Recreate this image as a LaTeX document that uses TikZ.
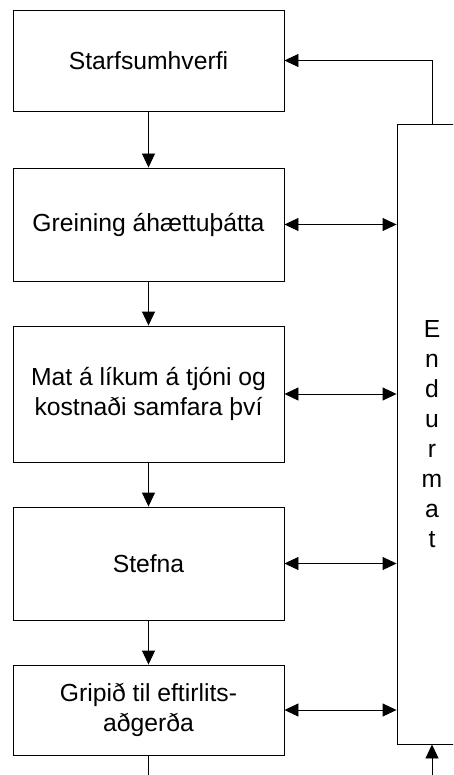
\documentclass[tikz,border=0pt]{standalone}
\usepackage{fontspec}
\setmainfont{Liberation Sans}
\usetikzlibrary{arrows.meta}
\begin{document}
\begin{tikzpicture}[x=1pt,y=-1pt, line width=0.9pt,
  box/.style={draw, minimum width=271pt, inner sep=0pt, align=center, font=\fontsize{24.7}{30}\selectfont},
  flow/.style={-{Triangle[length=14pt,width=13pt]}},
  both/.style={{Triangle[length=14pt,width=13pt]}-{Triangle[length=14pt,width=13pt]}}]
\useasboundingbox (0,0) rectangle (453,775);
\clip (0,0) rectangle (453,775);
\node[box, minimum height=101pt] (b1) at (148.5,60.5) {Starfsumhverfi};
\node[box, minimum height=113pt] (b2) at (148.5,224.5) {Greining áhættuþátta};
\node[box, minimum height=136pt] (b3) at (148.5,394) {Mat á líkum á tjóni og\\kostnaði samfara því};
\node[box, minimum height=113pt] (b4) at (148.5,563.5) {Stefna};
\node[box, minimum height=90pt] (b5) at (148.5,710) {Gripið til eftirlits-\\aðgerða};
\node[draw, minimum width=70pt, minimum height=620pt, inner sep=0pt, align=center,
  font=\fontsize{24.7}{30}\selectfont] (end) at (432,434) {E\\n\\d\\u\\r\\m\\a\\t};
\draw[flow] (b1) -- (b2);
\draw[flow] (b2) -- (b3);
\draw[flow] (b3) -- (b4);
\draw[flow] (b4) -- (b5);
\draw[both] (b2.east) -- (b2.east -| end.west);
\draw[both] (b3.east) -- (b3.east -| end.west);
\draw[both] (b4.east) -- (b4.east -| end.west);
\draw[both] (b5.east) -- (b5.east -| end.west);
\draw[flow] (end.north) |- (b1.east);
\coordinate (bl) at (148.5,775);
\coordinate (br) at (432,775);
\draw (b5.south) -- (bl);
\draw[flow] (br) -- (end.south);
\end{tikzpicture}
\end{document}
